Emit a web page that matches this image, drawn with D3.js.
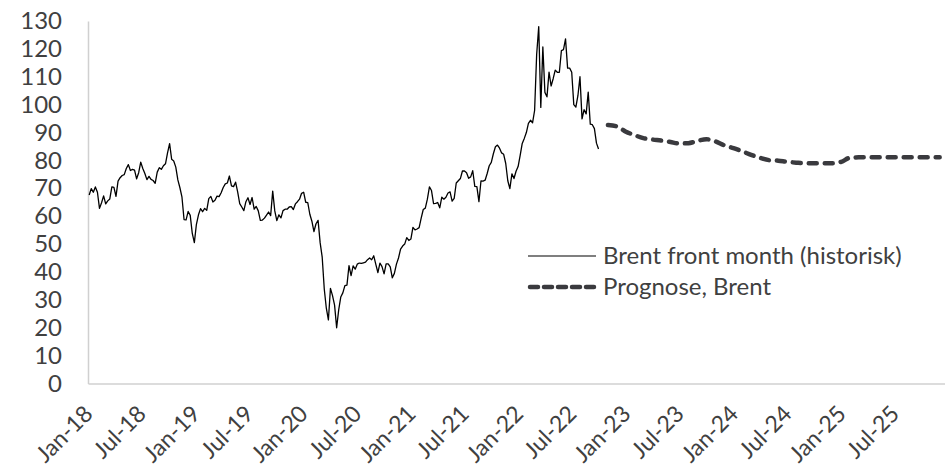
<!DOCTYPE html>
<html>
<head>
<meta charset="utf-8">
<script src="https://cdn.jsdelivr.net/npm/d3@7"></script>
<style>
  body { margin: 0; background: #fff; }
  svg { display: block; font-family: Lato, "Open Sans", sans-serif; }
</style>
</head>
<body>
<div id="chart"></div>
<script>
// Brent front month, weekly closes (Fridays)
var brent2018 = [67.6, 69.9, 68.6, 70.5, 68.6, 62.8, 64.8, 67.3, 64.4, 65.5, 66.2, 70.5, 70.3,
  67.1, 72.6, 73.8, 74.6, 74.9, 77.1, 78.5, 76.4, 76.8, 76.5, 73.4, 75.6, 79.4,
  77.1, 75.3, 73.1, 74.3, 73.2, 72.8, 71.8, 75.8, 77.4, 76.8, 78.1, 78.8, 82.7,
  86.0, 80.4, 79.8, 77.6, 73.0, 70.2, 66.8, 58.8, 58.7, 61.7, 60.3, 53.8, 50.5];
var brent2019 = [57.1, 60.5, 62.7, 61.6, 62.8, 62.1, 66.3, 67.1, 65.1, 65.7, 67.2, 67.0, 68.4,
  70.3, 71.6, 71.9, 74.4, 70.9, 70.6, 72.2, 68.7, 64.5, 63.3, 62.0, 65.2, 66.6,
  64.2, 66.7, 62.5, 63.5, 61.9, 58.5, 58.6, 59.3, 60.4, 61.5, 60.2, 69.0, 61.9,
  58.4, 60.5, 59.4, 62.0, 62.5, 62.5, 63.3, 63.4, 62.4, 64.4, 65.2, 66.1, 68.2];
var brent2020 = [68.6, 65.0, 64.9, 60.7, 58.2, 54.5, 57.3, 58.5, 50.5, 45.3, 33.9, 27.0, 22.8,
  34.1, 31.5, 28.1, 20.0, 26.4, 31.0, 32.5, 35.1, 35.3, 42.3, 38.7, 42.2, 41.0,
  42.8, 43.2, 43.1, 43.3, 43.5, 44.4, 45.0, 44.4, 45.8, 42.7, 39.8, 43.2, 41.9,
  39.3, 42.9, 42.9, 41.8, 37.9, 39.5, 42.8, 45.0, 48.2, 49.3, 50.0, 52.3, 51.3];
var brent2021 = [51.8, 56.0, 55.1, 55.4, 55.9, 59.3, 62.4, 62.9, 66.1, 70.5, 69.2, 64.5, 64.6,
  64.9, 63.0, 66.8, 66.1, 66.8, 68.3, 68.7, 65.4, 66.4, 71.9, 72.7, 73.5, 76.2,
  76.2, 75.6, 73.6, 74.1, 76.3, 70.7, 70.6, 65.2, 72.7, 72.6, 72.9, 75.3, 78.1,
  79.3, 82.4, 84.9, 85.5, 84.4, 82.7, 82.2, 78.9, 72.7, 69.9, 75.2, 73.5, 76.1, 77.8];
var brent2022 = [81.8, 86.1, 87.9, 90.0, 93.3, 94.4, 93.5, 97.9, 118.1, 128.0, 99.0, 120.7,
  104.4, 102.8, 111.7, 106.7, 109.3, 112.4, 111.6, 111.6, 119.4, 119.7, 123.6, 113.1, 113.1,
  111.6, 100.0, 99.1, 103.2, 110.0, 94.9, 98.2, 96.7, 104.5, 93.0, 92.8, 91.4, 86.2, 84.1];
var historyStart = "2018-01-05";

// Forecast, monthly from Nov-22 to Dec-25
var forecastStart = "2022-11-01";
var forecast = [92.7, 92.2, 90.3, 89.0, 88.0, 87.5, 87.1, 86.6, 86.1, 86.2, 87.0, 87.6, 86.8, 85.4,
  84.4, 83.2, 82.0, 80.9, 80.1, 79.9, 79.5, 79.2, 79.0, 79.0, 79.0, 79.0,
  79.5, 81.0, 81.1, 81.1, 81.1, 81.1, 81.1, 81.1, 81.1, 81.1, 81.1, 81.1];

var yTicks = [0, 10, 20, 30, 40, 50, 60, 70, 80, 90, 100, 110, 120, 130];
var seriesNames = ["Brent front month (historisk)", "Prognose, Brent"];

var width = 945, height = 467;
var parseDay = d3.timeParse("%Y-%m-%d");

var histData = [].concat(brent2018, brent2019, brent2020, brent2021, brent2022)
  .map((v, i) => ({ date: d3.timeDay.offset(parseDay(historyStart), i * 7), value: v }));
var prognose = forecast
  .map((v, i) => ({ date: d3.timeMonth.offset(parseDay(forecastStart), i), value: v }));

var xScale = d3.scaleTime()
  .domain([parseDay("2018-01-01"), parseDay("2026-01-01")])
  .range([88, 948.8]);
var yScale = d3.scaleLinear().domain([0, 130]).range([383.5, 21]);

var xTicks = d3.timeMonth.every(6).range(parseDay("2018-01-01"), parseDay("2025-12-01"));

var svg = d3.select("#chart").append("svg")
  .attr("width", width)
  .attr("height", height);

svg.append("rect").attr("width", width).attr("height", height).attr("fill", "#fff");

var axisColor = "#d0d0d0", textColor = "#404040", fontSize = 24;

var yAxisG = svg.append("g")
  .attr("transform", `translate(${xScale.range()[0]},0)`)
  .call(d3.axisLeft(yScale).tickValues(yTicks).tickSize(0).tickPadding(26));

var xAxisG = svg.append("g")
  .attr("transform", `translate(0,${yScale(0)})`)
  .call(d3.axisBottom(xScale).tickValues(xTicks).tickSize(0).tickFormat(d3.timeFormat("%b-%y")));

[yAxisG, xAxisG].forEach(function (g) {
  g.select(".domain").attr("stroke", axisColor).attr("stroke-width", 1.5);
  g.selectAll("text")
    .attr("fill", textColor)
    .style("font-size", fontSize + "px")
    .style("font-family", "Lato, 'Open Sans', sans-serif");
});

// rotated date labels, kept inside the bottom edge
xAxisG.selectAll("text")
  .style("font-size", (fontSize - 1) + "px")
  .attr("x", 0).attr("y", 0).attr("dy", "0.35em")
  .attr("text-anchor", "end")
  .attr("transform", "translate(0,26) rotate(-45)");

var line = d3.line()
  .x(d => xScale(d.date))
  .y(d => yScale(d.value));

svg.append("path")
  .datum(histData)
  .attr("d", line)
  .attr("fill", "none")
  .attr("stroke", "#000")
  .attr("stroke-width", 1.3)
  .attr("stroke-linejoin", "round");

svg.append("path")
  .datum(prognose)
  .attr("d", line.curve(d3.curveMonotoneX))
  .attr("fill", "none")
  .attr("stroke", "#3a3a3e")
  .attr("stroke-width", 4.5)
  .attr("stroke-linecap", "round")
  .attr("stroke-dasharray", "8,8");

// legend
var legend = svg.append("g").attr("transform", "translate(528,256)");
var rows = legend.selectAll("g")
  .data(seriesNames)
  .join("g")
  .attr("transform", (d, i) => `translate(0,${i * 31})`);

rows.append("line")
  .attr("x1", (d, i) => i ? 2 : 0).attr("x2", 68)
  .attr("stroke", (d, i) => i ? "#3a3a3e" : "#000")
  .attr("stroke-width", (d, i) => i ? 4.5 : 1.2)
  .attr("stroke-linecap", (d, i) => i ? "round" : "butt")
  .attr("stroke-dasharray", (d, i) => i ? "8,6" : null);

rows.append("text")
  .attr("x", 75)
  .attr("dy", "0.35em")
  .attr("fill", textColor)
  .style("font-size", fontSize + "px")
  .text(d => d);
</script>
</body>
</html>
